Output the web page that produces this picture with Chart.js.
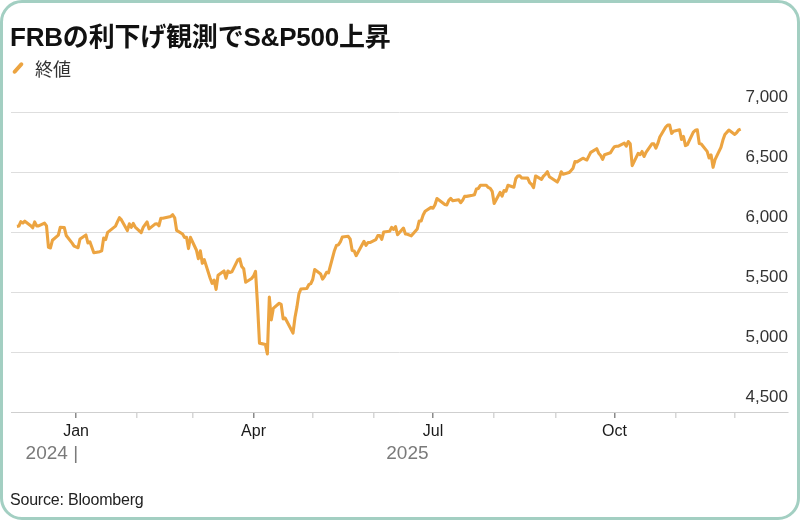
<!DOCTYPE html>
<html>
<head>
<meta charset="utf-8">
<script src="https://cdn.jsdelivr.net/npm/chart.js@4.4.1/dist/chart.umd.min.js"></script>
<style>
  body { margin: 0; background: #fff; }
  #wrap { position: absolute; left: 0; top: 0; width: 800px; height: 520px; }
  #frame { position: absolute; left: 0; top: 0; width: 800px; height: 520px; box-sizing: border-box;
    border: 3px solid #a3cfc2; border-radius: 22px; pointer-events: none; }
  .txt { position: absolute; white-space: nowrap; line-height: 1; }
  #title { left: 10px; top: 16px; font: bold 26px "Liberation Sans", "Noto Sans CJK JP", sans-serif; color: #111; letter-spacing: -0.2px; }
  #legend { left: 35px; top: 55px; font: 18px "Noto Sans CJK JP", sans-serif; color: #333; }
  #swatch { position: absolute; left: 16px; top: 61px; width: 4px; height: 14px; background: #eca441;
    border-radius: 2px; transform: rotate(42deg); }
  #source { left: 10px; top: 491px; font: 16px "Liberation Sans", sans-serif; color: #222; letter-spacing: -0.2px; }
</style>
</head>
<body>
<div id="wrap"><canvas id="myChart" width="800" height="520"></canvas></div>
<div class="txt" id="title">FRBの利下げ観測でS&amp;P500上昇</div>
<div id="swatch"></div>
<div class="txt" id="legend">終値</div>
<div class="txt" id="source">Source: Bloomberg</div>
<div id="frame"></div>
<script>
const dates = [
'2024-12-02','2024-12-03','2024-12-04','2024-12-05','2024-12-06','2024-12-09','2024-12-10','2024-12-11','2024-12-12','2024-12-13',
'2024-12-16','2024-12-17','2024-12-18','2024-12-19','2024-12-20','2024-12-23','2024-12-24','2024-12-26','2024-12-27','2024-12-30','2024-12-31',
'2025-01-02','2025-01-03','2025-01-06','2025-01-07','2025-01-08','2025-01-10','2025-01-13','2025-01-14','2025-01-15','2025-01-16',
'2025-01-17','2025-01-21','2025-01-22','2025-01-23','2025-01-24','2025-01-27','2025-01-28','2025-01-29','2025-01-30','2025-01-31',
'2025-02-03','2025-02-04','2025-02-05','2025-02-06','2025-02-07','2025-02-10','2025-02-11','2025-02-12','2025-02-13','2025-02-14',
'2025-02-18','2025-02-19','2025-02-20','2025-02-21','2025-02-24','2025-02-25','2025-02-26','2025-02-27','2025-02-28',
'2025-03-03','2025-03-04','2025-03-05','2025-03-06','2025-03-07','2025-03-10','2025-03-11','2025-03-12','2025-03-13','2025-03-14',
'2025-03-17','2025-03-18','2025-03-19','2025-03-20','2025-03-21','2025-03-24','2025-03-25','2025-03-26','2025-03-27','2025-03-28','2025-03-31',
'2025-04-01','2025-04-02','2025-04-03','2025-04-04','2025-04-07','2025-04-08','2025-04-09','2025-04-10','2025-04-11','2025-04-14',
'2025-04-15','2025-04-16','2025-04-17','2025-04-21','2025-04-22','2025-04-23','2025-04-24','2025-04-25','2025-04-28','2025-04-29','2025-04-30',
'2025-05-01','2025-05-02','2025-05-05','2025-05-06','2025-05-07','2025-05-08','2025-05-09','2025-05-12','2025-05-13','2025-05-14',
'2025-05-15','2025-05-16','2025-05-19','2025-05-20','2025-05-21','2025-05-22','2025-05-23','2025-05-27','2025-05-28','2025-05-29','2025-05-30',
'2025-06-02','2025-06-03','2025-06-04','2025-06-05','2025-06-06','2025-06-09','2025-06-10','2025-06-11','2025-06-12','2025-06-13',
'2025-06-16','2025-06-17','2025-06-18','2025-06-20','2025-06-23','2025-06-24','2025-06-25','2025-06-26','2025-06-27','2025-06-30',
'2025-07-01','2025-07-02','2025-07-03','2025-07-07','2025-07-08','2025-07-09','2025-07-10','2025-07-11','2025-07-14','2025-07-15','2025-07-16',
'2025-07-17','2025-07-18','2025-07-21','2025-07-22','2025-07-23','2025-07-24','2025-07-25','2025-07-28','2025-07-29','2025-07-30','2025-07-31',
'2025-08-01','2025-08-04','2025-08-05','2025-08-06','2025-08-07','2025-08-08','2025-08-11','2025-08-12','2025-08-13','2025-08-14','2025-08-15',
'2025-08-18','2025-08-19','2025-08-20','2025-08-21','2025-08-22','2025-08-25','2025-08-26','2025-08-27','2025-08-28','2025-08-29',
'2025-09-02','2025-09-03','2025-09-04','2025-09-05','2025-09-08','2025-09-09','2025-09-10','2025-09-11','2025-09-12','2025-09-15','2025-09-16',
'2025-09-17','2025-09-18','2025-09-19','2025-09-22','2025-09-23','2025-09-24','2025-09-25','2025-09-26','2025-09-29','2025-09-30',
'2025-10-01','2025-10-02','2025-10-03','2025-10-06','2025-10-07','2025-10-08','2025-10-09','2025-10-10','2025-10-13','2025-10-14','2025-10-15',
'2025-10-16','2025-10-17','2025-10-20','2025-10-21','2025-10-22','2025-10-23','2025-10-24','2025-10-27','2025-10-28','2025-10-29','2025-10-30','2025-10-31',
'2025-11-03','2025-11-04','2025-11-05','2025-11-06','2025-11-07','2025-11-10','2025-11-11','2025-11-12','2025-11-13','2025-11-14',
'2025-11-17','2025-11-18','2025-11-19','2025-11-20','2025-11-21','2025-11-24','2025-11-25','2025-11-26','2025-11-28',
'2025-12-01','2025-12-02','2025-12-03','2025-12-04'
];
const closes = [
6047,6050,6086,6075,6090,6053,6035,6084,6051,6051,
6074,6051,5872,5867,5931,5974,6040,6038,5971,5907,5882,
5869,5942,5975,5909,5918,5827,5836,5843,5950,5937,
5997,6049,6086,6119,6101,6012,6068,6039,6071,6041,
5995,6038,6061,6084,6026,6066,6069,6052,6115,6115,
6130,6144,6118,6013,5983,5955,5956,5862,5955,
5850,5778,5843,5739,5770,5615,5572,5599,5522,5639,
5675,5615,5675,5663,5668,5768,5777,5712,5693,5581,5612,
5633,5671,5397,5074,5062,4983,5457,5268,5363,5406,
5397,5276,5283,5158,5288,5376,5485,5525,5529,5561,5569,
5604,5687,5650,5607,5631,5664,5660,5844,5887,5893,
5917,5958,5964,5940,5845,5842,5803,5922,5889,5912,5912,
5936,5970,5971,5939,6000,6006,6039,6022,6045,5977,
6033,5983,5981,5968,6025,6092,6092,6141,6173,6205,
6198,6227,6279,6230,6226,6263,6280,6260,6269,6244,6264,
6297,6297,6306,6310,6359,6363,6389,6390,6371,6363,6339,
6238,6330,6299,6345,6340,6389,6373,6446,6467,6469,6450,
6449,6411,6396,6370,6467,6439,6466,6481,6502,6460,
6416,6448,6502,6482,6495,6513,6532,6587,6584,6615,6607,
6600,6632,6664,6694,6657,6638,6605,6644,6661,6688,
6711,6715,6716,6740,6715,6754,6735,6553,6655,6644,6671,
6629,6664,6735,6735,6699,6738,6792,6875,6891,6891,6822,6840,
6852,6772,6796,6720,6729,6832,6847,6851,6737,6734,
6672,6617,6642,6539,6603,6705,6766,6813,6849,
6813,6829,6850,6857
];
const seriesName = '終値';
const monthTicks = ['2025-01-01','2025-02-01','2025-03-01','2025-04-01','2025-05-01','2025-06-01',
  '2025-07-01','2025-08-01','2025-09-01','2025-10-01','2025-11-01','2025-12-01'];
const monthLabels = ['Jan','','','Apr','','','Jul','','','Oct','',''];
const yearLabels = ['2024 |','2025'];
const yearDates = ['2025-01-01','2025-06-18'];
const xRange = ['2024-11-29','2025-12-28'];
const yTicks = [4500, 5000, 5500, 6000, 6500, 7000];

function day(s) {
	const p = s.split('-').map(Number);
	return (Date.UTC(p[0], p[1] - 1, p[2]) - Date.UTC(2025, 0, 1)) / 864e5;
}

const points = dates.map((d, i) => ({ x: day(d), y: closes[i] }));

const yearPlugin = {
	id: 'yearLabels',
	afterDraw(chart) {
		const ctx = chart.ctx;
		const xs = chart.scales.x;
		ctx.save();
		ctx.font = '19px "Liberation Sans", sans-serif';
		ctx.fillStyle = '#7a7a7a';
		ctx.textBaseline = 'middle';
		yearLabels.forEach((t, i) => {
			ctx.textAlign = i == 0 ? 'right' : 'center';
			ctx.fillText(t, xs.getPixelForValue(day(yearDates[i])) + (i == 0 ? 2 : 0), 454);
		});
		ctx.restore();
	}
};

const ctx = document.getElementById('myChart').getContext('2d');
const myChart = new Chart(ctx, {
	type: 'line',
	data: {
		datasets: [{
			label: seriesName,
			data: points,
			borderColor: '#eca441',
			borderWidth: 3.1,
			pointRadius: 0,
			borderJoinStyle: 'round',
			tension: 0
		}]
	},
	options: {
		responsive: false,
		animation: false,
		layout: { padding: { left: 11, right: 12, top: 112, bottom: 78 } },
		plugins: { legend: { display: false }, tooltip: { enabled: false } },
		scales: {
			x: {
				type: 'linear',
				min: day(xRange[0]),
				max: day(xRange[1]),
				afterBuildTicks(scale) {
					scale.ticks = monthTicks.map(d => ({ value: day(d) }));
				},
				afterFit(scale) { scale.height = 30; },
				ticks: {
					autoSkip: false,
					maxRotation: 0,
					padding: 4,
					color: '#1a1a1a',
					font: { family: 'Liberation Sans', size: 16 },
					callback: (v, i) => monthLabels[i]
				},
				grid: {
					drawOnChartArea: false,
					tickLength: 6,
					lineWidth: 1.5,
					color: c => (c.tick && monthLabels[c.index]) ? '#8a8a8a' : '#d6d6d6'
				},
				border: { display: true, color: '#cfcfcf', width: 1 }
			},
			y: {
				position: 'right',
				min: 4500,
				max: 7000,
				afterBuildTicks(scale) {
					scale.ticks = yTicks.map(v => ({ value: v }));
				},
				ticks: {
					mirror: true,
					padding: 0,
					labelOffset: -14.5,
					color: '#333',
					font: { family: 'Liberation Sans', size: 17 },
					callback: v => v.toLocaleString('en-US')
				},
				grid: { color: '#dedede', lineWidth: 1, drawTicks: false },
				border: { display: false }
			}
		}
	},
	plugins: [yearPlugin]
});
</script>
</body>
</html>
